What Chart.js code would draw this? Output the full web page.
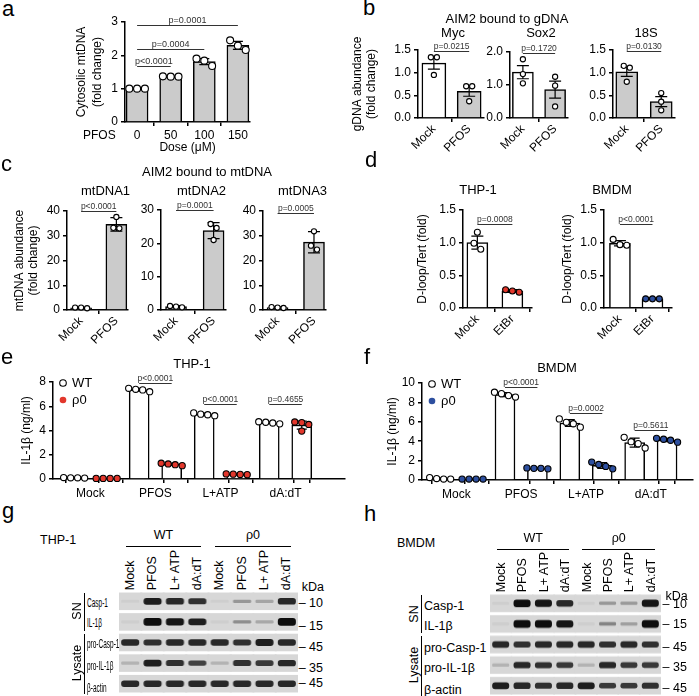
<!DOCTYPE html>
<html>
<head>
<meta charset="utf-8">
<script src="https://cdn.jsdelivr.net/npm/chart.js@4/dist/chart.umd.min.js"></script>
<style>
  body { margin: 0; background: #fff; width: 699px; height: 696px; position: relative; overflow: hidden;
         font-family: "Liberation Sans", Arial, sans-serif; color: #000; }
  .t { position: absolute; white-space: nowrap; line-height: 1; }
  .ln { position: absolute; background: #000; }
  canvas { position: absolute; }
</style>
</head>
<body>
<script>
// ---------- data ----------
// a : cytosolic mtDNA vs PFOS dose
const aCats = ['0', '50', '100', '150'];
const aMean = [1.0, 1.36, 1.81, 2.30];
const aErr = [0.01, 0.02, 0.09, 0.12];
const aDots = [[1.0, 1.0, 1.0], [1.37, 1.36, 1.36], [1.9, 1.84, 1.68], [2.45, 2.29, 2.16]];
const aP = [[0, 1, 1.68, 'p<0.0001'], [0, 2, 2.19, 'p=0.0004'], [0, 3, 2.9, 'p=0.0001']];

// b : AIM2 bound to gDNA
const bCats = ['Mock', 'PFOS'];
const bTargets = ['Myc', 'Sox2', '18S'];
const bMax = [1.5, 2.0, 1.5];
const bMean = [[1.21, 0.59], [1.39, 0.86], [1.02, 0.36]];
const bErr = [[0.13, 0.11], [0.2, 0.26], [0.1, 0.11]];
const bDots = [
  [[1.34, 1.34, 0.95], [0.7, 0.7, 0.37]],
  [[1.78, 1.33, 1.05], [1.25, 0.98, 0.35]],
  [[1.15, 1.11, 0.8], [0.55, 0.36, 0.17]]
];
const bP = [[0, 1, 1.47, 'p=0.0215'], [0, 1, 1.97, 'p=0.1720'], [0, 1, 1.47, 'p=0.0130']];

// c : AIM2 bound to mtDNA
const cTargets = ['mtDNA1', 'mtDNA2', 'mtDNA3'];
const cMax = [40, 30, 40];
const cMean = [[0.9, 34.6], [1.0, 23.8], [1.0, 27.4]];
const cErr = [[0.2, 2.7], [0.3, 2.4], [0.3, 4.3]];
const cDots = [
  [[0.7, 1.0, 1.0], [37.6, 33.2, 33.0]],
  [[0.8, 1.0, 1.2], [25.8, 24.6, 21.0]],
  [[0.8, 1.0, 1.2], [31.8, 26.0, 24.4]]
];
const cP = [[0, 1, 40, 'p<0.0001'], [0, 1, 30, 'p=0.0001'], [0, 1, 39, 'p=0.0005']];

// d : D-loop/Tert
const dCells = ['THP-1', 'BMDM'];
const dCats = ['Mock', 'EtBr'];
const dMean = [[1.0, 0.26], [0.99, 0.14]];
const dErr = [[0.1, 0.02], [0.04, 0.01]];
const dDots = [[[1.16, 0.99, 0.9], [0.24, 0.28, 0.26]], [[1.05, 0.96, 0.97], [0.14, 0.14, 0.14]]];
const dP = [[0, 1, 1.29, 'p=0.0008'], [0, 1, 1.29, 'p<0.0001']];

// e / f : IL-1β, WT vs ρ0
const ilGroups = ['Mock', 'PFOS', 'L+ATP', 'dA:dT'];
const eWT = [0.1, 7.36, 5.33, 4.64];
const eWTErr = [0.02, 0.12, 0.1, 0.07];
const eWTDots = [[0.12, 0.1, 0.1, 0.08], [7.48, 7.4, 7.35, 7.2], [5.45, 5.35, 5.3, 5.22], [4.72, 4.68, 4.62, 4.55]];
const eRho = [0.05, 1.21, 0.39, 4.45];
const eRhoErr = [0.01, 0.08, 0.03, 0.33];
const eRhoDots = [[0.05, 0.05, 0.05, 0.05], [1.3, 1.24, 1.18, 1.1], [0.42, 0.4, 0.38, 0.36], [4.7, 4.65, 4.5, 3.95]];
const eP = [[2, 3, 7.93, 'p<0.0001'], [4, 5, 6.2, 'p<0.0001'], [6, 7, 6.2, 'p=0.4655']];

const fWT = [0.15, 8.8, 5.88, 3.85];
const fWTErr = [0.07, 0.22, 0.35, 0.46];
const fWTDots = [[0.25, 0.15, 0.1, 0.1], [9.05, 8.9, 8.7, 8.55], [6.3, 5.95, 5.8, 5.45], [4.4, 3.95, 3.75, 3.3]];
const fRho = [0.1, 1.2, 1.5, 4.12];
const fRhoErr = [0.01, 0.04, 0.3, 0.17];
const fRhoDots = [[0.1, 0.1, 0.1, 0.1], [1.25, 1.2, 1.2, 1.15], [1.85, 1.6, 1.4, 1.15], [4.3, 4.2, 4.1, 3.9]];
const fP = [[2, 3, 9.6, 'p<0.0001'], [4, 5, 6.94, 'p=0.0002'], [6, 7, 5.15, 'p=0.5611']];

// g / h : western blots, band intensity 0..1 per lane
const laneNames = ['Mock', 'PFOS', 'L+ ATP', 'dA:dT', 'Mock', 'PFOS', 'L+ ATP', 'dA:dT'];
const blotRows = ['Casp-1', 'IL-1β', 'pro-Casp-1', 'pro-IL-1β', 'β-actin'];
const gBands = [
  [0, 0.9, 0.85, 0.8, 0, 0.2, 0.12, 0.85],
  [0, 1.0, 0.95, 0.9, 0, 0.25, 0.1, 1.0],
  [0.85, 0.8, 0.85, 0.85, 0.85, 0.8, 0.9, 0.85],
  [0.04, 0.9, 0.8, 0.7, 0.04, 0.8, 0.75, 0.85],
  [0.85, 0.85, 0.85, 0.85, 0.85, 0.85, 0.85, 0.85]
];
const hBands = [
  [0, 1.0, 0.95, 0.85, 0, 0.2, 0.18, 0.95],
  [0, 1.0, 1.0, 0.95, 0, 0.3, 0.15, 1.0],
  [0.85, 0.8, 0.85, 0.85, 0.85, 0.8, 0.85, 0.8],
  [0.04, 0.85, 0.8, 0.75, 0.04, 0.85, 0.75, 0.75],
  [0.9, 0.85, 0.8, 0.85, 0.9, 0.75, 0.75, 0.8]
];
const gMarkers = ['10', '15', '45', '35', '45'];

// ---------- setup ----------
const FONT = '"Liberation Sans", Arial, sans-serif';
Chart.defaults.font.family = FONT;
Chart.defaults.font.size = 12;
Chart.defaults.color = '#000';
Chart.defaults.animation = false;
Chart.defaults.plugins.legend.display = false;
Chart.defaults.plugins.tooltip.enabled = false;

const GREY = '#cbcbcb', RED = '#e2372c', BLUE = '#2d4f9f';

function mk(left, top, w, h) {
  const c = document.createElement('canvas');
  c.width = w; c.height = h;
  c.style.left = left + 'px'; c.style.top = top + 'px';
  c.style.width = w + 'px'; c.style.height = h + 'px';
  document.body.appendChild(c);
  return c;
}

function T(x, y, s, size, al, rot, sx) {
  const d = document.createElement('div');
  d.className = 't';
  d.textContent = s;
  d.style.left = x + 'px'; d.style.top = y + 'px';
  d.style.fontSize = size + 'px';
  const tx = al === 'c' ? '-50%' : al === 'r' ? '-100%' : '0';
  if (sx) d.style.transformOrigin = '0 50%';
  d.style.transform = `translate(${tx},-50%)` + (rot ? ` rotate(${rot}deg)` : '') + (sx ? ` scaleX(${sx})` : '');
  document.body.appendChild(d);
}

// vertical text reading upward, bottom end at yb, centred on x
function V(x, yb, s, size) {
  const d = document.createElement('div');
  d.className = 't';
  d.textContent = s;
  d.style.left = x + 'px'; d.style.top = (yb - size / 2) + 'px';
  d.style.fontSize = size + 'px';
  d.style.transformOrigin = '0 50%';
  d.style.transform = 'rotate(-90deg)';
  document.body.appendChild(d);
}

function L(x1, y1, x2, y2) {
  const d = document.createElement('div');
  d.className = 'ln';
  d.style.left = Math.min(x1, x2) + 'px'; d.style.top = Math.min(y1, y2) + 'px';
  d.style.width = Math.max(1, Math.abs(x2 - x1)) + 'px';
  d.style.height = Math.max(1, Math.abs(y2 - y1)) + 'px';
  document.body.appendChild(d);
}

// horizontal offsets (px) so dots with close values sit side by side
function spread(vals, pxY, dotD) {
  const idx = vals.map((v, i) => i).sort((a, b) => vals[b] - vals[a]);
  const off = vals.map(() => 0);
  const groups = [];
  let cur = [idx[0]];
  for (let k = 1; k < idx.length; k++) {
    if ((vals[cur[cur.length - 1]] - vals[idx[k]]) * pxY < dotD * 0.9) cur.push(idx[k]);
    else { groups.push(cur); cur = [idx[k]]; }
  }
  groups.push(cur);
  groups.forEach(g => g.forEach((i, k) => { off[i] = (k - (g.length - 1) / 2) * dotD; }));
  return off;
}

function axisGrid(tickColor) {
  return { display: true, drawOnChartArea: false, drawTicks: true, tickLength: 4,
           lineWidth: 1.5, tickWidth: 1.5, tickColor: tickColor || '#000' };
}

function panel(o) {
  const padT = 16, padR = 8;
  const top = o.yTop - padT;
  const yw = o.axL - o.left;
  const w = o.axR - o.left + padR, h = o.y0 - top + o.xh;
  const cv = mk(o.left, top, w, h);
  const pxY = (o.y0 - o.yTop) / o.yMax;
  const pxX = (o.axR - o.axL) / (o.xMax - o.xMin);
  const dotD = o.r * 2 + 0.8;
  const ds = [{
    type: 'bar', data: o.mean.map((m, i) => ({ x: i, y: m })),
    backgroundColor: o.fill, borderColor: '#000', borderWidth: 1.5,
    barThickness: o.barW, order: 2
  }];
  o.dots.forEach((arr, i) => {
    const off = spread(arr, pxY, dotD);
    ds.push({
      type: 'scatter', data: arr.map((v, j) => ({ x: i + off[j] / pxX, y: v })),
      pointRadius: o.r, pointBackgroundColor: o.dotFill[i], pointBorderColor: '#000',
      pointBorderWidth: 1.1, clip: false, order: 0
    });
  });
  const deco = {
    id: 'deco',
    afterDatasetDraw(chart, args) {
      if (args.index !== 0) return;
      const { ctx } = chart, xS = chart.scales.x, yS = chart.scales.y;
      ctx.save();
      ctx.strokeStyle = '#000'; ctx.lineWidth = 1.2;
      o.mean.forEach((m, i) => {
        const e = o.err[i];
        if (!e) return;
        const x = xS.getPixelForValue(i);
        const y1 = yS.getPixelForValue(m + e), y2 = yS.getPixelForValue(Math.max(0, m - e));
        ctx.beginPath();
        ctx.moveTo(x, y1); ctx.lineTo(x, y2);
        ctx.moveTo(x - o.cap, y1); ctx.lineTo(x + o.cap, y1);
        ctx.moveTo(x - o.cap, y2); ctx.lineTo(x + o.cap, y2);
        ctx.stroke();
      });
      ctx.restore();
    },
    afterDraw(chart) {
      const { ctx, chartArea } = chart, xS = chart.scales.x, yS = chart.scales.y;
      ctx.save();
      ctx.strokeStyle = '#333'; ctx.lineWidth = 1;
      ctx.fillStyle = '#333';
      ctx.font = `${o.pSize}px ${FONT}`;
      ctx.textAlign = 'center'; ctx.textBaseline = 'alphabetic';
      (o.p || []).forEach(([a, b, v, s]) => {
        const x1 = xS.getPixelForValue(a), x2 = xS.getPixelForValue(b), y = Math.round(yS.getPixelForValue(v)) + 0.5;
        ctx.beginPath(); ctx.moveTo(x1, y); ctx.lineTo(x2, y); ctx.stroke();
        ctx.fillText(s, (x1 + x2) / 2, y - 2.5);
      });
      if (o.legend) {
        ctx.font = `13px ${FONT}`;
        ctx.textAlign = 'left'; ctx.textBaseline = 'middle';
        o.legend.forEach(([lab, fill], k) => {
          const x = chartArea.left + 10, y = chartArea.top + 1 + 17 * k;
          ctx.beginPath(); ctx.arc(x, y, 3.3, 0, Math.PI * 2);
          ctx.fillStyle = fill; ctx.fill();
          if (fill === '#fff') { ctx.lineWidth = 1.1; ctx.strokeStyle = '#000'; ctx.stroke(); }
          ctx.fillStyle = '#000';
          ctx.fillText(lab, x + 9, y + 0.5);
        });
      }
      ctx.restore();
    }
  };
  new Chart(cv, {
    type: 'bar',
    data: { datasets: ds },
    options: {
      responsive: false, devicePixelRatio: 1, events: [],
      layout: { padding: { top: padT, right: padR, left: 0, bottom: 0 } },
      scales: {
        x: {
          type: 'linear', min: o.xMin, max: o.xMax, offset: false,
          afterBuildTicks: s => { s.ticks = o.ticks.map(v => ({ value: v })); },
          afterFit: s => { s.height = o.xh; },
          grid: axisGrid(c => (o.noTick && c.tick && o.noTick(c.tick.value)) ? 'rgba(0,0,0,0)' : '#000'),
          border: { display: true, color: '#000', width: 1.5 },
          ticks: { autoSkip: false, padding: o.xpad, minRotation: o.rot, maxRotation: o.rot,
                   font: { size: 12 }, callback: v => o.label(v) },
          title: o.xtitle ? { display: true, text: o.xtitle, padding: 0, font: { size: 12 } } : { display: false }
        },
        y: {
          min: 0, max: o.yMax,
          afterFit: s => { s.width = yw; },
          grid: axisGrid(),
          border: { display: true, color: '#000', width: 1.5 },
          ticks: { stepSize: o.step, padding: 3, font: { size: 12 },
                   callback: v => o.dec ? v.toFixed(o.dec) : String(v) },
          title: o.ytitle ? { display: true, text: o.ytitle, padding: 0,
                              font: { size: 12, lineHeight: (o.tlh || 14) / 12 } } : { display: false }
        }
      }
    },
    plugins: [deco]
  });
}

function blot(o) {
  const nL = o.bands[0].length, nR = o.bands.length;
  const w = o.lanePx * nL, h = o.rowPx * nR;
  const cv = mk(o.left, o.top, w, h);
  const ds = [];
  o.bands.forEach((row, r) => {
    ds.push({
      data: row.map((_, i) => ({ x: i, y: [r - 0.41, r + 0.41] })),
      backgroundColor: '#d7d7d7', barThickness: o.lanePx + 1, grouped: false, order: 2
    });
    ds.push({
      data: row.map((v, i) => { const hh = 0.06 + 0.11 * v * v; return { x: i, y: [r - hh, r + hh] }; }),
      backgroundColor: row.map(v => v > 0.02 ? `rgba(14,14,14,${(0.15 + 0.85 * v).toFixed(2)})` : 'rgba(0,0,0,0.04)'),
      barThickness: o.bandW, borderRadius: 3, borderSkipped: false, grouped: false, order: 1
    });
  });
  new Chart(cv, {
    type: 'bar',
    data: { datasets: ds },
    options: {
      responsive: false, devicePixelRatio: 1, events: [],
      layout: { padding: 0 },
      scales: {
        x: { type: 'linear', display: false, min: -0.5, max: nL - 0.5, offset: false },
        y: { display: false, min: -0.5, max: nR - 0.5, reverse: true }
      }
    }
  });
}

const idxLabel = cats => v => cats[Math.round(v)] || '';

// ---------- panel a ----------
panel({
  left: 74, axL: 125, axR: 250, yTop: 22, y0: 122, yMax: 3, step: 1,
  xMin: -0.36, xMax: 3.36, xh: 33, xpad: 2, rot: 0, ticks: [0, 1, 2, 3], label: idxLabel(aCats),
  mean: aMean, err: aErr, dots: aDots, fill: GREY, dotFill: ['#fff', '#fff', '#fff', '#fff'],
  barW: 22, r: 3.5, cap: 5, p: aP, pSize: 9,
  ytitle: ['Cytosolic mtDNA', '(fold change)'], tlh: 16, xtitle: 'Dose (μM)'
});
T(2, 9, 'a', 22);
T(83, 135, 'PFOS', 12);

// ---------- panel b ----------
const bGeo = [
  { left: 350, axL: 418, axR: 484, yTop: 50, xMin: -0.45, xMax: 1.42, barW: 24, fill: ['#fff', GREY] },
  { left: 478, axL: 510, axR: 568, yTop: 52, xMin: -0.4, xMax: 1.4, barW: 21, fill: ['#fff', GREY] },
  { left: 581, axL: 613, axR: 675, yTop: 50, xMin: -0.4, xMax: 1.4, barW: 22, fill: [GREY, GREY] }
];
bGeo.forEach((g, k) => {
  panel(Object.assign({}, g, {
    y0: 118, yMax: bMax[k], step: 0.5, dec: 1, xh: 40, xpad: 0, rot: 45, ticks: [0, 1], label: idxLabel(bCats),
    mean: bMean[k], err: bErr[k], dots: bDots[k], dotFill: ['#fff', '#fff'],
    r: 2.6, cap: 6, p: [bP[k]], pSize: 8.5,
    ytitle: k === 0 ? ['gDNA abundance', '(fold change)'] : null, tlh: 14.4
  }));
  T((g.axL + g.axR) / 2 + 2, 32, bTargets[k], 13, 'c');
});
T(363, 8, 'b', 22);
T(507, 18, 'AIM2 bound to  gDNA', 13, 'c');

// ---------- panel c ----------
const cGeo = [
  { left: 13, axL: 67, axR: 128, yTop: 211 },
  { left: 131, axL: 161, axR: 226, yTop: 210 },
  { left: 233, axL: 263, axR: 326, yTop: 211 }
];
cGeo.forEach((g, k) => {
  panel(Object.assign({}, g, {
    y0: 310, yMax: cMax[k], step: 10, xMin: -0.4, xMax: 1.33, xh: 40, xpad: 0, rot: 45,
    ticks: [0, 1], label: idxLabel(bCats),
    mean: cMean[k], err: cErr[k], dots: cDots[k], fill: [GREY, GREY], dotFill: ['#fff', '#fff'],
    barW: 21, r: 2.6, cap: 6, p: [cP[k]], pSize: 8.5,
    ytitle: k === 0 ? ['mtDNA abundance', '(fold change)'] : null, tlh: 14
  }));
  T((g.axL + g.axR) / 2 + 8, 190, cTargets[k], 13, 'c');
});
T(1, 164, 'c', 22);
T(207, 171, 'AIM2 bound to mtDNA', 13, 'c');

// ---------- panel d ----------
const dGeo = [
  { left: 416, axL: 463, axR: 532, xMin: -0.41, xMax: 1.56, dotFill: ['#fff', RED] },
  { left: 561, axL: 604, axR: 672, xMin: -0.49, xMax: 1.6, dotFill: ['#fff', BLUE] }
];
dGeo.forEach((g, k) => {
  panel(Object.assign({}, g, {
    yTop: 210, y0: 308, yMax: 1.5, step: 0.5, dec: 1, xh: 40, xpad: 0, rot: 45,
    ticks: [0, 1], label: idxLabel(dCats),
    mean: dMean[k], err: dErr[k], dots: dDots[k], fill: ['#fff', '#fff'],
    barW: 21, r: 3, cap: 6, p: [dP[k]], pSize: 8.5,
    ytitle: 'D-loop/Tert (fold)', tlh: 14
  }));
});
T(365, 160, 'd', 22);
T(478, 189, dCells[0], 13, 'c');
T(612, 189, dCells[1], 13, 'c');

// ---------- panels e / f ----------
const pairTicks = [0, 0.5, 1, 2, 2.5, 3, 4, 4.5, 5, 6, 6.5, 7];
const pairLabel = v => (v % 1) ? ilGroups[(v - 0.5) / 2] : '';
const inter = (a, b) => a.flatMap((v, i) => [v, b[i]]);

panel({
  left: 20, axL: 53, axR: 345, yTop: 382, y0: 479, yMax: 8, step: 2,
  xMin: -0.65, xMax: 8.33, xh: 22, xpad: 3, rot: 0, ticks: pairTicks, label: pairLabel,
  noTick: v => v % 1 !== 0,
  mean: inter(eWT, eRho), err: inter(eWTErr, eRhoErr), dots: inter(eWTDots, eRhoDots),
  fill: '#fff', dotFill: inter(['#fff', '#fff', '#fff', '#fff'], [RED, RED, RED, RED]),
  barW: 20, r: 3.1, cap: 5, p: eP, pSize: 8.5,
  ytitle: 'IL-1β (ng/ml)', tlh: 14, legend: [['WT', '#fff'], ['ρ0', RED]]
});
T(1, 357, 'e', 22);
T(192, 363, 'THP-1', 13, 'c');

panel({
  left: 386, axL: 422, axR: 693, yTop: 383, y0: 480, yMax: 10, step: 2,
  xMin: -0.56, xMax: 7.8, xh: 22, xpad: 3, rot: 0, ticks: pairTicks, label: pairLabel,
  noTick: v => v % 1 !== 0,
  mean: inter(fWT, fRho), err: inter(fWTErr, fRhoErr), dots: inter(fWTDots, fRhoDots),
  fill: '#fff', dotFill: inter(['#fff', '#fff', '#fff', '#fff'], [BLUE, BLUE, BLUE, BLUE]),
  barW: 20, r: 3.1, cap: 5, p: fP, pSize: 8.5,
  ytitle: 'IL-1β (ng/ml)', tlh: 14, legend: [['WT', '#fff'], ['ρ0', BLUE]]
});
T(364, 357, 'f', 22);
T(557, 367, 'BMDM', 13, 'c');

// ---------- panels g / h ----------
function blotPanel(o) {
  blot({ left: o.lane0 - o.lanePx / 2, top: o.row0 - o.rowPx / 2, lanePx: o.lanePx, rowPx: o.rowPx,
         bandW: o.lanePx - 5, bands: o.bands });
  T(o.cellX, o.cellY, o.cell, 12.5);
  const wtC = o.lane0 + o.lanePx * 1.5, rhoC = o.lane0 + o.lanePx * 5.5;
  T(wtC, o.hdrY, 'WT', 12.5, 'c');
  T(rhoC, o.hdrY, 'ρ0', 12.5, 'c');
  L(wtC - o.lanePx * 1.6 - 2, o.hdrY + 11, wtC + o.lanePx * 1.6 + 2, o.hdrY + 11);
  L(rhoC - o.lanePx * 1.6 - 2, o.hdrY + 11, rhoC + o.lanePx * 1.6 + 2, o.hdrY + 11);
  laneNames.forEach((s, i) => V(o.lane0 + o.lanePx * i, o.laneB, s, 12.5));
  const right = o.lane0 + o.lanePx * 7.5;
  T(right + 4, o.kdaY, 'kDa', 12.5);
  gMarkers.forEach((m, i) => T(right + 1, o.markY[i], '– ' + m, 12.5));
  blotRows.forEach((s, i) => T(o.rowX, o.rowY[i], s, o.rowFont, null, 0, o.rowSx));
  const top = o.row0 - o.rowPx / 2, mid = top + o.rowPx * 2, bot = top + o.rowPx * 5;
  L(o.rowX - 3, top + 2, o.rowX - 3, mid - 1);
  L(o.rowX - 3, mid + 2, o.rowX - 3, bot);
  T(o.rowX - 10, (top + mid) / 2, 'SN', 12.5, 'c', -90);
  T(o.rowX - 10, (mid + bot) / 2, 'Lysate', 12.5, 'c', -90);
}

blotPanel({
  bands: gBands, lane0: 130, lanePx: 22.35, row0: 601, rowPx: 20.6,
  cell: 'THP-1', cellX: 40, cellY: 540, hdrY: 535, laneB: 590, kdaY: 587,
  markY: [603, 626, 647, 668, 683], rowX: 87, rowY: [603, 623, 644, 666, 688], rowFont: 12, rowSx: 0.54
});
T(2, 511, 'g', 22);

blotPanel({
  bands: hBands, lane0: 501, lanePx: 21.4, row0: 603.5, rowPx: 20.5,
  cell: 'BMDM', cellX: 397, cellY: 543, hdrY: 538, laneB: 592, kdaY: 596,
  markY: [604, 624, 647, 667, 688], rowX: 424, rowY: [606, 626, 648, 668, 690], rowFont: 12.5, rowSx: 0
});
T(364, 514, 'h', 22);
</script>
</body>
</html>
